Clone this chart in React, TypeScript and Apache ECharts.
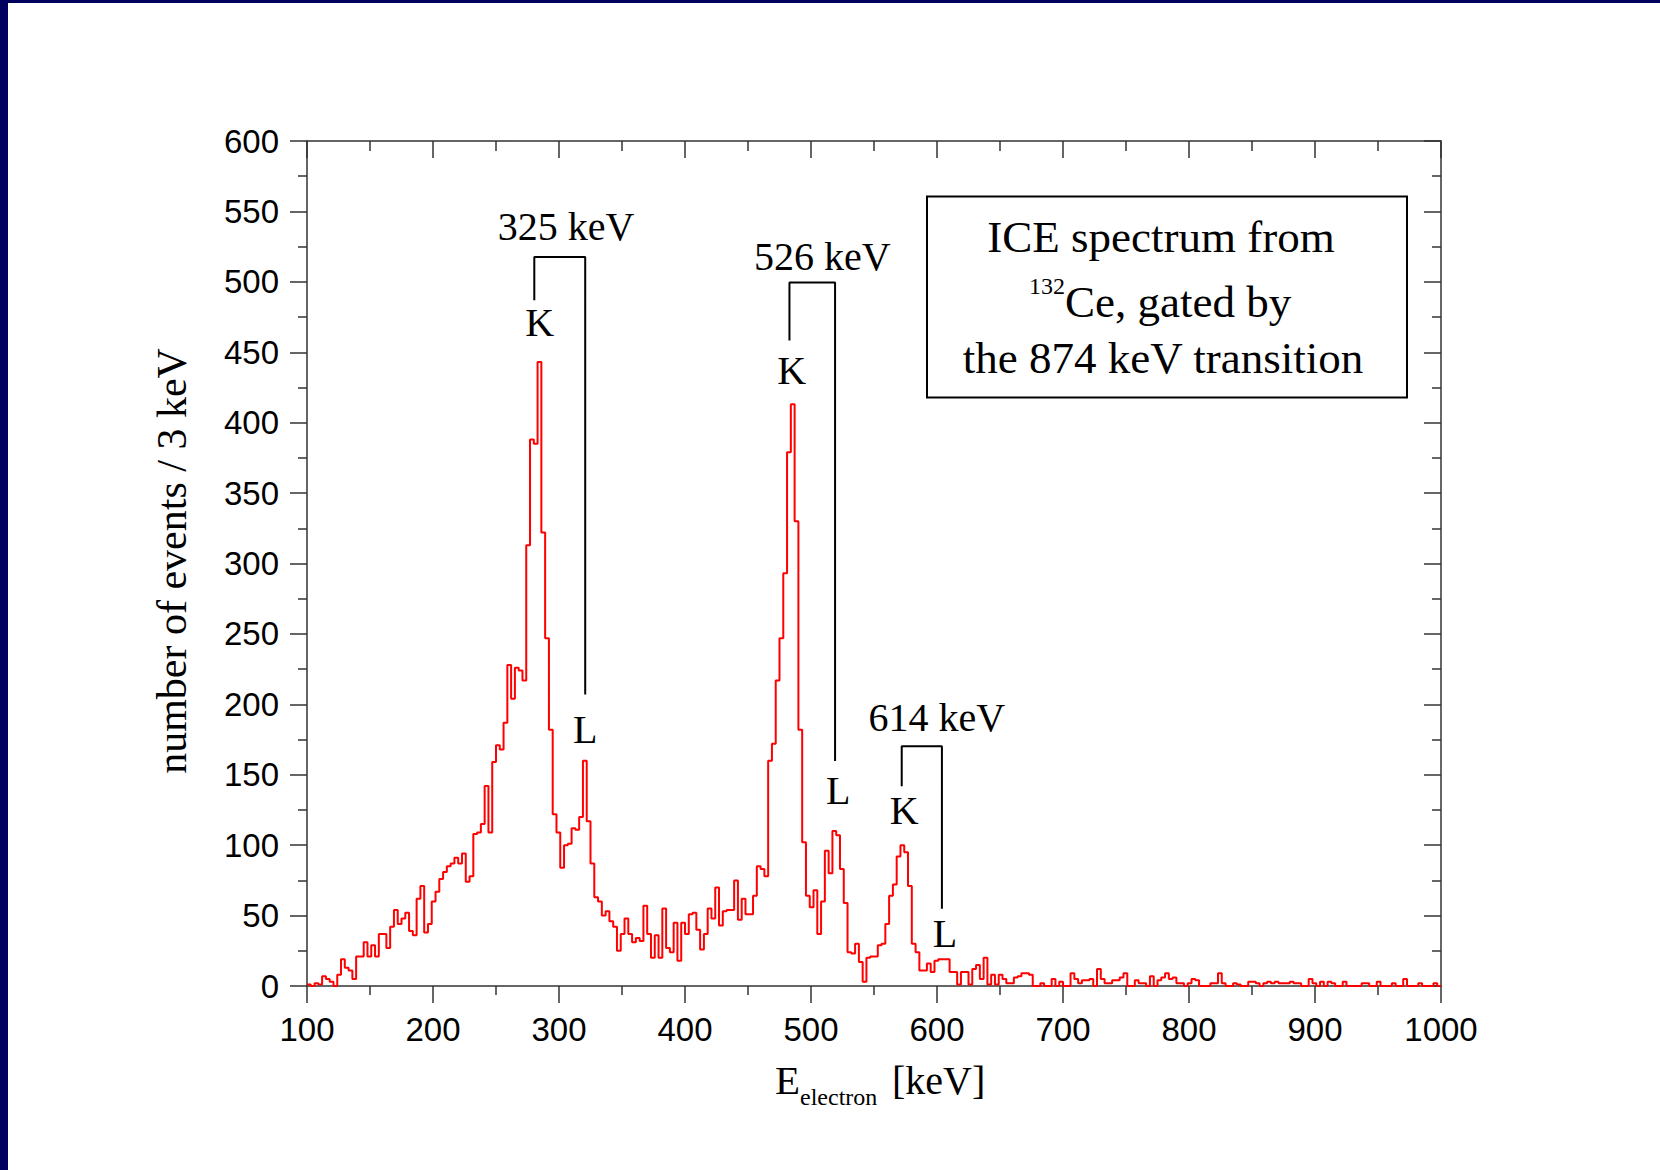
import React, { useEffect, useRef } from "react";
import * as echarts from "echarts";

// Histogram: 3 keV bins starting at 100 keV
const binStart = 100;
const binWidth = 3;
const counts: number[] = [
  1, 0, 2, 1, 7, 5, 3, 0, 8, 19,
  13, 11, 5, 21, 21, 31, 21, 29, 21, 37,
  37, 27, 42, 54, 44, 48, 52, 39, 36, 62,
  71, 38, 44, 60, 67, 76, 81, 85, 87, 91,
  87, 94, 74, 78, 108, 109, 115, 142, 109, 159,
  171, 168, 187, 228, 204, 226, 224, 217, 313, 388,
  385, 443, 322, 247, 182, 122, 109, 84, 100, 101,
  112, 111, 120, 160, 117, 87, 63, 60, 50, 53,
  46, 42, 25, 37, 48, 37, 31, 34, 32, 57,
  37, 20, 36, 20, 55, 27, 24, 45, 18, 45,
  37, 51, 52, 40, 26, 37, 55, 48, 70, 43,
  53, 54, 54, 75, 47, 62, 51, 51, 64, 85,
  83, 78, 160, 172, 217, 247, 293, 379, 413, 330,
  182, 102, 64, 56, 68, 37, 60, 96, 80, 110,
  107, 83, 59, 24, 23, 30, 17, 3, 20, 21,
  21, 29, 30, 44, 64, 72, 92, 100, 95, 71,
  30, 24, 11, 11, 16, 10, 18, 19, 19, 19,
  10, 10, 1, 10, 10, 1, 12, 15, 5, 20,
  1, 8, 1, 8, 5, 2, 2, 6, 7, 9,
  9, 8, 0, 0, 2, 0, 0, 5, 0, 3,
  0, 0, 9, 5, 2, 4, 4, 5, 0, 12,
  5, 2, 2, 4, 4, 6, 9, 0, 0, 4,
  2, 2, 0, 7, 0, 4, 6, 9, 5, 6,
  2, 2, 0, 2, 5, 4, 0, 0, 0, 2,
  2, 9, 2, 0, 0, 2, 1, 0, 0, 3,
  3, 2, 0, 2, 3, 2, 3, 2, 2, 2,
  3, 2, 2, 0, 0, 5, 2, 0, 3, 0,
  3, 2, 0, 0, 3, 0, 0, 0, 0, 2,
  2, 0, 0, 3, 0, 0, 0, 2, 0, 0,
  5, 0, 0, 0, 2, 0, 0, 0, 2, 0,
];

// Axis ranges
const xMin = 100, xMax = 1000, xInterval = 100;
const yMin = 0, yMax = 600, yInterval = 50;

// Transition annotations (data coordinates: keV, counts)
const peakNames = ["325 keV", "526 keV", "614 keV"];
const peakNamePos = [[305.6, 539], [509, 518], [599.8, 190.5]];
const kLabelPos = [[284.6, 471], [484.6, 437], [573.9, 124.5]];
const lLabelPos = [[320.8, 182], [521.6, 139], [606.4, 37.5]];
const bracketLeftX = [280.4, 482.9, 572];
const bracketRightX = [320.8, 519.1, 603.9];
const bracketTopY = [517.6, 499.6, 170.3];
const bracketLeftBottomY = [487, 458.4, 141.8];
const bracketRightBottomY = [207, 159.8, 54.8];

const legendLines = ["ICE spectrum from", "Ce, gated by", "the 874 keV transition"];
const legendSup = "132";

const SERIF = '"Liberation Serif", "Times New Roman", serif';
const SANS = '"Liberation Sans", Arial, sans-serif';
const AXIS_COLOR = "#333";

export default function App() {
  const ref = useRef<HTMLDivElement>(null);

  useEffect(() => {
    document.body.style.margin = "0";
    const chart = echarts.init(ref.current!, null, { renderer: "svg" });

    const histData: number[][] = counts.map((c, i) => [binStart + i * binWidth, c]);
    histData.push([binStart + counts.length * binWidth, counts[counts.length - 1]]);

    const tickStyle = { color: AXIS_COLOR, width: 1.5 };

    const bracketSeries = peakNames.map((n, i) => ({
      type: "line",
      name: "bracket" + i,
      xAxisIndex: 0,
      yAxisIndex: 0,
      silent: true,
      symbol: "none",
      lineStyle: { color: "#000", width: 2 },
      data: [
        [bracketLeftX[i], bracketLeftBottomY[i]],
        [bracketLeftX[i], bracketTopY[i]],
        [bracketRightX[i], bracketTopY[i]],
        [bracketRightX[i], bracketRightBottomY[i]],
      ],
      z: 3,
    }));

    const txt = (text: string, x: number, y: number, size: number, align: string, extra: any = {}) => ({
      type: "text",
      z: 51,
      x,
      y,
      ...extra,
      style: {
        text,
        fontFamily: SERIF,
        fontSize: size,
        fill: "#000",
        textAlign: align,
        textVerticalAlign: "middle",
        align,
        verticalAlign: "middle",
      },
    });

    const baseGraphic: any[] = [
      { type: "rect", z: 100, shape: { x: 0, y: 0, width: 8, height: 1170 }, style: { fill: "#00005e" } },
      { type: "rect", z: 100, shape: { x: 0, y: 0, width: 1660, height: 3 }, style: { fill: "#00005e" } },
      {
        type: "rect",
        z: 50,
        shape: { x: 927, y: 196.5, width: 480, height: 201 },
        style: { fill: "#fff", stroke: "#000", lineWidth: 2 },
      },
      txt(legendLines[0], 1161, 237, 45, "center"),
      txt(legendSup, 1029, 286, 24, "left"),
      txt(legendLines[1], 1065, 302, 45, "left"),
      txt(legendLines[2], 1163, 358, 45, "center"),
      txt("number of events / 3 keV", 172, 561, 42, "center", { rotation: Math.PI / 2, z: 10 }),
      txt("E", 775, 1080, 41, "left", { z: 10 }),
      txt("electron", 800, 1097, 24, "left", { z: 10 }),
      txt("[keV]", 892, 1080, 40, "left", { z: 10 }),
    ];

    const option: any = {
      animation: false,
      backgroundColor: "#ffffff",
      grid: { left: 307, right: 219, top: 141, bottom: 184, containLabel: false },
      xAxis: [
        {
          type: "value",
          min: xMin,
          max: xMax,
          interval: xInterval,
          position: "bottom",
          axisLine: { show: true, onZero: false, lineStyle: tickStyle },
          axisTick: { show: true, inside: false, length: 17, lineStyle: tickStyle },
          minorTick: { show: true, splitNumber: 2, length: 9, lineStyle: tickStyle },
          axisLabel: {
            show: true,
            margin: 27,
            color: "#000",
            fontSize: 33,
            fontFamily: SANS,
            formatter: (v: number) => String(v),
          },
          splitLine: { show: false },
          minorSplitLine: { show: false },
        },
        {
          type: "value",
          min: xMin,
          max: xMax,
          interval: xInterval,
          position: "top",
          axisLine: { show: true, onZero: false, lineStyle: tickStyle },
          axisTick: { show: true, inside: true, length: 17, lineStyle: tickStyle },
          minorTick: { show: true, splitNumber: 2, length: 10, lineStyle: tickStyle },
          axisLabel: { show: false },
          splitLine: { show: false },
        },
      ],
      yAxis: [
        {
          type: "value",
          min: yMin,
          max: yMax,
          interval: yInterval,
          position: "left",
          axisLine: { show: true, onZero: false, lineStyle: tickStyle },
          axisTick: { show: true, inside: false, length: 17, lineStyle: tickStyle },
          minorTick: { show: true, splitNumber: 2, length: 9, lineStyle: tickStyle },
          axisLabel: {
            show: true,
            margin: 28,
            color: "#000",
            fontSize: 33,
            fontFamily: SANS,
            formatter: (v: number) => String(v),
          },
          splitLine: { show: false },
          minorSplitLine: { show: false },
        },
        {
          type: "value",
          min: yMin,
          max: yMax,
          interval: yInterval,
          position: "right",
          axisLine: { show: true, onZero: false, lineStyle: tickStyle },
          axisTick: { show: true, inside: true, length: 17, lineStyle: tickStyle },
          minorTick: { show: true, splitNumber: 2, length: 9, lineStyle: tickStyle },
          axisLabel: { show: false },
          splitLine: { show: false },
        },
      ],
      series: [
        {
          type: "line",
          name: "ICE spectrum",
          xAxisIndex: 0,
          yAxisIndex: 0,
          step: "end",
          symbol: "none",
          silent: true,
          lineStyle: { color: "#ff0000", width: 2 },
          data: histData,
          z: 2,
        },
        ...bracketSeries,
      ],
      graphic: baseGraphic,
    };

    chart.setOption(option);

    // Annotation texts placed through the chart's own coordinate conversion
    const toPx = (p: number[]) => chart.convertToPixel({ xAxisIndex: 0, yAxisIndex: 0 }, p) as number[];
    const annot: any[] = [];
    peakNames.forEach((name, i) => {
      const a = toPx(peakNamePos[i]);
      const k = toPx(kLabelPos[i]);
      const l = toPx(lLabelPos[i]);
      annot.push(txt(name, a[0], a[1], 40, "center", { z: 20 }));
      annot.push(txt("K", k[0], k[1], 40, "center", { z: 20 }));
      annot.push(txt("L", l[0], l[1], 40, "center", { z: 20 }));
    });
    chart.setOption({ graphic: [...baseGraphic, ...annot] });

    return () => chart.dispose();
  }, []);

  return (
    <div
      ref={ref}
      style={{ position: "absolute", left: 0, top: 0, width: 1660, height: 1170, background: "#fff" }}
    />
  );
}
